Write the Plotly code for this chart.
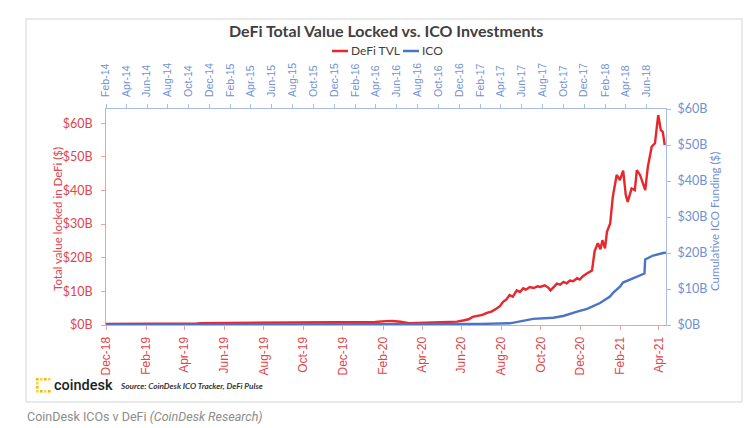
import plotly.graph_objects as go

# ---------------- data ----------------
tvl_dates = [
    "2018-12-01", "2019-01-10", "2019-02-15", "2019-03-20", "2019-04-20", "2019-04-28",
    "2019-06-01", "2019-06-25", "2019-07-20", "2019-08-20", "2019-09-20", "2019-10-20",
    "2019-11-20", "2019-12-20", "2019-12-28", "2020-01-20", "2020-02-05", "2020-02-15",
    "2020-02-28", "2020-03-12", "2020-03-25", "2020-04-15", "2020-05-10", "2020-05-25",
    "2020-06-05", "2020-06-12", "2020-06-18", "2020-06-25", "2020-07-03", "2020-07-10",
    "2020-07-17", "2020-07-25", "2020-07-30", "2020-08-04", "2020-08-09", "2020-08-14",
    "2020-08-19", "2020-08-25", "2020-08-30", "2020-09-04", "2020-09-08", "2020-09-14",
    "2020-09-20", "2020-09-26", "2020-09-30", "2020-10-07", "2020-10-12", "2020-10-16",
    "2020-10-21", "2020-10-26", "2020-10-31", "2020-11-05", "2020-11-10", "2020-11-15",
    "2020-11-20", "2020-11-26", "2020-11-30", "2020-12-05", "2020-12-11", "2020-12-16",
    "2020-12-19", "2020-12-23", "2020-12-28", "2021-01-01", "2021-01-04", "2021-01-08",
    "2021-01-11", "2021-01-16", "2021-01-20", "2021-01-26", "2021-01-31", "2021-02-05",
    "2021-02-09", "2021-02-12", "2021-02-18", "2021-02-23", "2021-02-26", "2021-03-03",
    "2021-03-08", "2021-03-11", "2021-03-15", "2021-03-21", "2021-03-26", "2021-03-31",
    "2021-04-04", "2021-04-07", "2021-04-10",
]
tvl_values = [
    0.28, 0.29, 0.31, 0.36, 0.45, 0.55,
    0.58, 0.65, 0.62, 0.58, 0.60, 0.62,
    0.63, 0.66, 0.85, 0.90, 1.15, 1.20,
    0.95, 0.55, 0.60, 0.75, 0.85, 1.0,
    1.4, 1.7, 2.4, 2.6, 3.0, 3.6,
    4.0, 4.9, 5.6, 6.9, 7.6, 8.9,
    8.4, 10.3, 9.8, 10.9, 10.5, 11.3,
    11.0, 11.5, 11.3, 11.8, 11.2, 10.3,
    11.2, 12.3, 12.0, 12.8, 12.4, 13.2,
    13.0, 13.9, 13.5, 14.5, 15.3, 15.8,
    16.2, 22.0, 24.3, 22.5, 25.2, 22.8,
    27.7, 30.2, 38.1, 44.6, 43.1, 45.9,
    38.6, 36.6, 40.6, 40.1, 46.0, 44.6,
    41.5, 40.1, 47.0, 53.0, 54.0, 62.4,
    57.9, 57.4, 53.5,
]

ico_dates = [
    "2014-02-01", "2014-07-20", "2014-09-01", "2015-06-01", "2016-01-01", "2016-05-25",
    "2016-12-01", "2017-02-01", "2017-04-28", "2017-05-28", "2017-07-05", "2017-09-02",
    "2017-10-01", "2017-11-11", "2017-12-10", "2018-01-17", "2018-02-15", "2018-02-24",
    "2018-03-17", "2018-03-25", "2018-04-06", "2018-05-20", "2018-05-27", "2018-05-29",
    "2018-06-21", "2018-07-21", "2018-07-29",
]
ico_values = [
    0.0, 0.02, 0.03, 0.05, 0.08, 0.22,
    0.25, 0.30, 0.47, 1.1, 1.7, 2.0,
    2.5, 3.7, 4.5, 6.1, 7.9, 8.9,
    10.7, 11.8, 12.3, 14.2, 14.3, 18.2,
    19.3, 20.0, 20.1,
]

y_tick_values = [0, 10, 20, 30, 40, 50, 60]
y_tick_labels = ["$0B", "$10B", "$20B", "$30B", "$40B", "$50B", "$60B"]

RED = "#e8262c"
RED_TXT = "#e0454a"
RED_AX = "#f0a0a0"
BLUE = "#4a74c8"
BLUE_TXT = "#7090d4"
BLUE_AX = "#a8bce6"

# plot area in pixels
L, R, T, B = 106, 666, 109, 325
W, H = 750, 428


def px(xp):
    return (xp - L) / (R - L)


def py(yp):
    return (B - yp) / (B - T)


fig = go.Figure()
fig.add_trace(go.Scatter(x=tvl_dates, y=tvl_values, name="DeFi TVL", mode="lines",
                         line=dict(color=RED, width=2.4), xaxis="x", yaxis="y",
                         showlegend=False))
fig.add_trace(go.Scatter(x=ico_dates, y=ico_values, name="ICO", mode="lines",
                         line=dict(color=BLUE, width=2.4), xaxis="x2", yaxis="y2",
                         showlegend=False))

tickfont_axis = "Liberation Sans, Arial, sans-serif"
calib = "Lato, sans-serif"

fig.update_layout(
    width=W, height=H,
    margin=dict(l=L, r=W - R, t=T, b=H - B, pad=0),
    paper_bgcolor="white", plot_bgcolor="white",
    xaxis=dict(type="date", range=["2018-12-01", "2021-04-12"], tick0="2018-12-01", dtick="M2",
               tickformat="%b-%y", tickangle=-90, showgrid=False, zeroline=False,
               showline=True, linecolor=RED_AX, linewidth=1, automargin=False,
               ticks="outside", ticklen=4, tickcolor=RED_AX, ticklabelstandoff=2,
               tickfont=dict(family=tickfont_axis, size=12, color=RED_TXT)),
    xaxis2=dict(type="date", range=["2014-02-01", "2018-07-29"], tick0="2014-02-01", dtick="M2",
                tickformat="%b-%y", tickangle=-90, showgrid=False, zeroline=False,
                overlaying="x", side="top", anchor="y", automargin=False,
                showline=True, linecolor=BLUE_AX, linewidth=1,
                ticks="outside", ticklen=4, tickcolor=BLUE_AX, ticklabelstandoff=5,
                tickfont=dict(family=tickfont_axis, size=10.5, color=BLUE_TXT)),
    yaxis=dict(range=[0, 64.2], tickvals=y_tick_values, ticktext=y_tick_labels,
               showgrid=False, zeroline=False, showline=True, linecolor=RED_AX, linewidth=1,
               ticks="outside", ticklen=4, tickcolor=RED_AX, ticklabelstandoff=6,
               automargin=False,
               tickfont=dict(family=calib, size=12.5, color=RED_TXT)),
    yaxis2=dict(range=[0, 60], tickvals=y_tick_values, ticktext=y_tick_labels,
                overlaying="y", side="right", anchor="x", automargin=False,
                showgrid=False, zeroline=False, showline=True, linecolor=BLUE_AX, linewidth=1,
                ticks="outside", ticklen=4, tickcolor=BLUE_AX, ticklabelstandoff=4,
                tickfont=dict(family=calib, size=12.5, color=BLUE_TXT)),
)

shapes = []
annotations = []

# outer card
shapes.append(dict(type="rect", xref="paper", yref="paper",
                   x0=px(26), x1=px(742), y0=py(402), y1=py(19),
                   line=dict(color="#e4e4e4", width=1.5), fillcolor="rgba(0,0,0,0)", layer="below"))

# title
annotations.append(dict(text="<b>DeFi Total Value Locked vs. ICO Investments</b>",
                        xref="paper", yref="paper", x=px(386), y=py(31),
                        xanchor="center", yanchor="middle", showarrow=False,
                        font=dict(family=calib, size=16, color="#404040")))

# manual legend
LEG_Y = 51
shapes.append(dict(type="line", xref="paper", yref="paper", x0=px(332), x1=px(348),
                   y0=py(LEG_Y), y1=py(LEG_Y), line=dict(color=RED, width=2.5)))
annotations.append(dict(text="DeFi TVL", xref="paper", yref="paper", x=px(349), y=py(LEG_Y),
                        xanchor="left", yanchor="middle", showarrow=False,
                        font=dict(family=calib, size=12, color="#404040")))
shapes.append(dict(type="line", xref="paper", yref="paper", x0=px(403), x1=px(419),
                   y0=py(LEG_Y), y1=py(LEG_Y), line=dict(color=BLUE, width=2.5)))
annotations.append(dict(text="ICO", xref="paper", yref="paper", x=px(420), y=py(LEG_Y),
                        xanchor="left", yanchor="middle", showarrow=False,
                        font=dict(family=calib, size=12, color="#404040")))

# axis titles
annotations.append(dict(text="Total value locked in DeFi ($)", xref="paper", yref="paper",
                        x=px(57), y=py(219), textangle=-90, xanchor="center", yanchor="middle",
                        showarrow=False, font=dict(family=calib, size=11.5, color=RED_TXT)))
annotations.append(dict(text="Cumulative ICO Funding ($)", xref="paper", yref="paper",
                        x=px(714), y=py(222), textangle=-90, xanchor="center", yanchor="middle",
                        showarrow=False, font=dict(family=calib, size=11.5, color=BLUE_TXT)))

# coindesk logo (dot square)
dot = 2.6
logo_cells = [(0, 0), (1, 0), (2, 0), (3, 0),
              (0, 1), (0, 2),
              (0, 3), (1, 3), (2, 3), (3, 3)]
for cx, cy in logo_cells:
    x0 = 36 + cx * 4
    y0 = 378 + cy * 4
    col = "#f5b800" if (cx + cy) % 2 == 0 else "#f7d25a"
    shapes.append(dict(type="rect", xref="paper", yref="paper",
                       x0=px(x0), x1=px(x0 + dot), y0=py(y0 + dot), y1=py(y0),
                       line=dict(width=0), fillcolor=col))
annotations.append(dict(text="coindesk", xref="paper", yref="paper", x=px(52), y=py(385),
                        xanchor="left", yanchor="middle", showarrow=False,
                        font=dict(family="Roboto, sans-serif", size=14.5, color="#1e1e1e",
                                  weight=500)))
annotations.append(dict(text="<i><b>Source: CoinDesk ICO Tracker, DeFi Pulse</b></i>",
                        xref="paper", yref="paper", x=px(118), y=py(386),
                        xanchor="left", yanchor="middle", showarrow=False,
                        font=dict(family=calib, size=8.2, color="#333333")))

# caption
annotations.append(dict(text="CoinDesk ICOs v DeFi <i>(CoinDesk Research)</i>",
                        xref="paper", yref="paper", x=px(25), y=py(416),
                        xanchor="left", yanchor="middle", showarrow=False,
                        font=dict(family="Roboto, sans-serif", size=12.5, color="#8c8c8c")))

fig.update_layout(shapes=shapes, annotations=annotations)
fig.write_html("out.html", config={"displayModeBar": False},
               post_script="document.body.style.margin='0';document.body.style.padding='0';")
